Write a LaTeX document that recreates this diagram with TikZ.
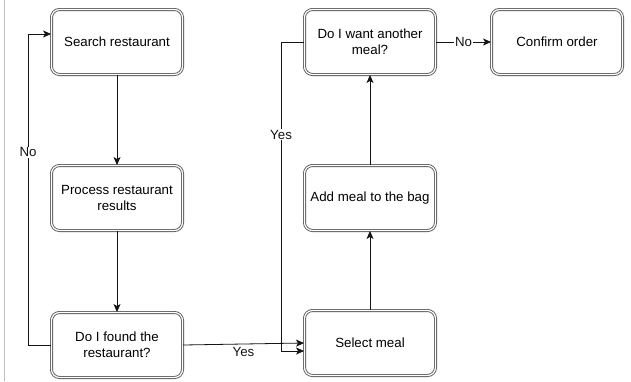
\documentclass[tikz,border=0pt]{standalone}
\usepackage{fontspec}
\setmainfont{Liberation Sans}
\usepackage{tikz}
\usetikzlibrary{arrows.meta}
\usepackage{xcolor}
\definecolor{ColBox}{RGB}{90,90,90}
\definecolor{ColLine}{RGB}{20,20,20}
\definecolor{ColEdge}{RGB}{190,190,190}
\tikzstyle{StepBox}=[rectangle,rounded corners=8pt,draw=ColBox,line width=0.9pt,
double=white,double distance=1.2pt,fill=white,minimum width=131pt,minimum height=65pt,
align=center,font=\fontsize{13.3}{16}\selectfont]
\tikzstyle{Flow}=[ColLine,line width=0.8pt,-{Stealth[length=8pt,width=7pt,inset=2pt]}]
\tikzstyle{FlowLabel}=[fill=white,inner sep=1pt,font=\fontsize{13.3}{16}\selectfont]

\begin{document}
\begin{tikzpicture}[x=1pt,y=-1pt]
        \useasboundingbox (0,0) rectangle (631,381);
        \fill[white] (0,0) rectangle (631,381);
        \draw[ColEdge,line width=1.5pt] (4.5,0) -- (4.5,381);
        \node[StepBox](search)at(117,42){Search restaurant};
        \node[StepBox](process)at(117,198){Process restaurant\\results};
        \node[StepBox](found)at(117,345){Do I found the\\restaurant?};
        \node[StepBox](another)at(370,42){Do I want another\\meal?};
        \node[StepBox](confirm)at(557,42){Confirm order};
        \node[StepBox](bag)at(370,198){Add meal to the bag};
        \node[StepBox](select)at(370,343){Select meal};
        \draw[Flow](search)--(process);
        \draw[Flow](process)--(found);
        \draw[Flow](found.west)--++(-23,0)|-node[FlowLabel,pos=0.31]{No}([yshift=8pt]search.west);
        \draw[Flow](found.east)--node[FlowLabel,below=2pt,pos=0.5]{Yes}(select.west);
        \draw[Flow](another.west)--++(-23,0)|-node[FlowLabel,pos=0.15]{Yes}([yshift=-8pt]select.west);
        \draw[Flow](select)--(bag);
        \draw[Flow](bag)--(another);
        \draw[Flow](another)--node[FlowLabel]{No}(confirm);
    \end{tikzpicture}
\end{document}
